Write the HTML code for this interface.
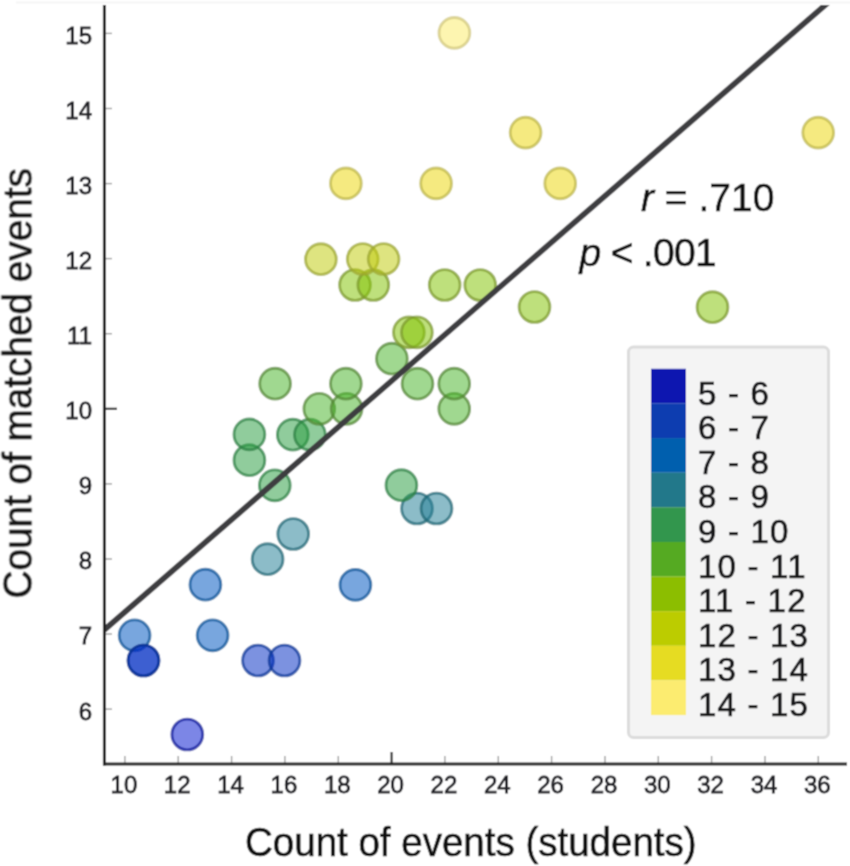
<!DOCTYPE html>
<html><head><meta charset="utf-8"><style>
html,body{margin:0;padding:0;background:#fff;width:850px;height:866px;overflow:hidden}
svg{display:block}
text{font-family:"Liberation Sans",sans-serif}
.tk{font-size:24px;fill:#1e1e24;stroke:#1e1e24;stroke-width:0.8px;letter-spacing:0px}
.lg{font-size:33px;fill:#141418;stroke:#141418;stroke-width:0.7px;letter-spacing:1.2px}
.an{font-size:39px;fill:#111;stroke:#111;stroke-width:0.5px}
.ti{font-size:40px;fill:#111;stroke:#111;stroke-width:0.6px}
</style></head><body>
<svg width="850" height="866" viewBox="0 0 850 866">
<defs><clipPath id="pc"><rect x="104.4" y="5" width="745" height="759"/></clipPath><filter id="b" x="0" y="0" width="850" height="866" filterUnits="userSpaceOnUse"><feConvolveMatrix order="3" kernelMatrix="1 2 1 2 6 2 1 2 1" divisor="18" edgeMode="duplicate"/></filter></defs>
<rect width="850" height="866" fill="#fff"/>
<g filter="url(#b)">
<rect width="850" height="866" fill="#fff"/>
<line x1="16" y1="2.5" x2="850" y2="2.5" stroke="#f5f5f5" stroke-width="2"/>
<line x1="104" y1="709.1" x2="112" y2="709.1" stroke="#a0a0a0" stroke-width="1.4"/>
<text x="92" y="719.5" text-anchor="end" class="tk">6</text>
<line x1="104" y1="634.0" x2="112" y2="634.0" stroke="#a0a0a0" stroke-width="1.4"/>
<text x="92" y="644.4" text-anchor="end" class="tk">7</text>
<line x1="104" y1="559.0" x2="112" y2="559.0" stroke="#a0a0a0" stroke-width="1.4"/>
<text x="92" y="569.4" text-anchor="end" class="tk">8</text>
<line x1="104" y1="483.9" x2="112" y2="483.9" stroke="#a0a0a0" stroke-width="1.4"/>
<text x="92" y="494.3" text-anchor="end" class="tk">9</text>
<line x1="104" y1="408.8" x2="117" y2="408.8" stroke="#2a2a2a" stroke-width="2.2"/>
<text x="92" y="419.2" text-anchor="end" class="tk">10</text>
<line x1="104" y1="333.7" x2="112" y2="333.7" stroke="#a0a0a0" stroke-width="1.4"/>
<text x="92" y="344.1" text-anchor="end" class="tk">11</text>
<line x1="104" y1="258.6" x2="112" y2="258.6" stroke="#a0a0a0" stroke-width="1.4"/>
<text x="92" y="269.0" text-anchor="end" class="tk">12</text>
<line x1="104" y1="183.6" x2="112" y2="183.6" stroke="#a0a0a0" stroke-width="1.4"/>
<text x="92" y="194.0" text-anchor="end" class="tk">13</text>
<line x1="104" y1="108.5" x2="112" y2="108.5" stroke="#a0a0a0" stroke-width="1.4"/>
<text x="92" y="118.9" text-anchor="end" class="tk">14</text>
<line x1="104" y1="33.4" x2="112" y2="33.4" stroke="#a0a0a0" stroke-width="1.4"/>
<text x="92" y="43.8" text-anchor="end" class="tk">15</text>
<line x1="124.9" y1="756" x2="124.9" y2="764" stroke="#a0a0a0" stroke-width="1.4"/>
<text x="123.9" y="792.5" text-anchor="middle" class="tk">10</text>
<line x1="178.2" y1="756" x2="178.2" y2="764" stroke="#a0a0a0" stroke-width="1.4"/>
<text x="177.2" y="792.5" text-anchor="middle" class="tk">12</text>
<line x1="231.6" y1="756" x2="231.6" y2="764" stroke="#a0a0a0" stroke-width="1.4"/>
<text x="230.6" y="792.5" text-anchor="middle" class="tk">14</text>
<line x1="284.9" y1="756" x2="284.9" y2="764" stroke="#a0a0a0" stroke-width="1.4"/>
<text x="283.9" y="792.5" text-anchor="middle" class="tk">16</text>
<line x1="338.3" y1="756" x2="338.3" y2="764" stroke="#a0a0a0" stroke-width="1.4"/>
<text x="337.3" y="792.5" text-anchor="middle" class="tk">18</text>
<line x1="391.6" y1="752" x2="391.6" y2="764" stroke="#2a2a2a" stroke-width="2.2"/>
<text x="390.6" y="792.5" text-anchor="middle" class="tk">20</text>
<line x1="444.9" y1="756" x2="444.9" y2="764" stroke="#a0a0a0" stroke-width="1.4"/>
<text x="443.9" y="792.5" text-anchor="middle" class="tk">22</text>
<line x1="498.3" y1="756" x2="498.3" y2="764" stroke="#a0a0a0" stroke-width="1.4"/>
<text x="497.3" y="792.5" text-anchor="middle" class="tk">24</text>
<line x1="551.6" y1="756" x2="551.6" y2="764" stroke="#a0a0a0" stroke-width="1.4"/>
<text x="550.6" y="792.5" text-anchor="middle" class="tk">26</text>
<line x1="605.0" y1="756" x2="605.0" y2="764" stroke="#a0a0a0" stroke-width="1.4"/>
<text x="604.0" y="792.5" text-anchor="middle" class="tk">28</text>
<line x1="658.3" y1="756" x2="658.3" y2="764" stroke="#a0a0a0" stroke-width="1.4"/>
<text x="657.3" y="792.5" text-anchor="middle" class="tk">30</text>
<line x1="711.6" y1="756" x2="711.6" y2="764" stroke="#a0a0a0" stroke-width="1.4"/>
<text x="710.6" y="792.5" text-anchor="middle" class="tk">32</text>
<line x1="765.0" y1="756" x2="765.0" y2="764" stroke="#a0a0a0" stroke-width="1.4"/>
<text x="764.0" y="792.5" text-anchor="middle" class="tk">34</text>
<line x1="818.3" y1="756" x2="818.3" y2="764" stroke="#a0a0a0" stroke-width="1.4"/>
<text x="817.3" y="792.5" text-anchor="middle" class="tk">36</text>
<circle cx="187.3" cy="734.5" r="15.4" fill="#061bd0" fill-opacity="0.53" stroke="#081396" stroke-opacity="0.72" stroke-width="2.9"/>
<circle cx="258.0" cy="660.5" r="15.4" fill="#0631c5" fill-opacity="0.53" stroke="#083596" stroke-opacity="0.72" stroke-width="2.9"/>
<circle cx="284.5" cy="660.5" r="15.4" fill="#0631c5" fill-opacity="0.53" stroke="#083596" stroke-opacity="0.72" stroke-width="2.9"/>
<circle cx="134.6" cy="635.3" r="15.4" fill="#0057c1" fill-opacity="0.53" stroke="#055094" stroke-opacity="0.72" stroke-width="2.9"/>
<circle cx="212.6" cy="635.3" r="15.4" fill="#0057c1" fill-opacity="0.53" stroke="#055094" stroke-opacity="0.72" stroke-width="2.9"/>
<circle cx="205.4" cy="584.7" r="15.4" fill="#0057c1" fill-opacity="0.53" stroke="#055094" stroke-opacity="0.72" stroke-width="2.9"/>
<circle cx="355.4" cy="584.9" r="15.4" fill="#0057c1" fill-opacity="0.53" stroke="#055094" stroke-opacity="0.72" stroke-width="2.9"/>
<circle cx="267.6" cy="559.2" r="15.4" fill="#268197" fill-opacity="0.53" stroke="#1f6675" stroke-opacity="0.72" stroke-width="2.9"/>
<circle cx="293.2" cy="534.0" r="15.4" fill="#268197" fill-opacity="0.53" stroke="#1f6675" stroke-opacity="0.72" stroke-width="2.9"/>
<circle cx="417.0" cy="508.5" r="15.4" fill="#268197" fill-opacity="0.53" stroke="#1f6675" stroke-opacity="0.72" stroke-width="2.9"/>
<circle cx="436.5" cy="508.5" r="15.4" fill="#268197" fill-opacity="0.53" stroke="#1f6675" stroke-opacity="0.72" stroke-width="2.9"/>
<circle cx="274.8" cy="485.3" r="15.4" fill="#2e9f44" fill-opacity="0.53" stroke="#2b8042" stroke-opacity="0.72" stroke-width="2.9"/>
<circle cx="401.4" cy="485.2" r="15.4" fill="#2e9f44" fill-opacity="0.53" stroke="#2b8042" stroke-opacity="0.72" stroke-width="2.9"/>
<circle cx="249.4" cy="460.2" r="15.4" fill="#2e9f44" fill-opacity="0.53" stroke="#2b8042" stroke-opacity="0.72" stroke-width="2.9"/>
<circle cx="249.4" cy="434.4" r="15.4" fill="#2e9f44" fill-opacity="0.53" stroke="#2b8042" stroke-opacity="0.72" stroke-width="2.9"/>
<circle cx="292.8" cy="434.7" r="15.4" fill="#2e9f44" fill-opacity="0.53" stroke="#2b8042" stroke-opacity="0.72" stroke-width="2.9"/>
<circle cx="309.9" cy="434.7" r="15.4" fill="#2e9f44" fill-opacity="0.53" stroke="#2b8042" stroke-opacity="0.72" stroke-width="2.9"/>
<circle cx="319.3" cy="408.8" r="15.4" fill="#4cb52e" fill-opacity="0.53" stroke="#538635" stroke-opacity="0.72" stroke-width="2.9"/>
<circle cx="346.6" cy="408.8" r="15.4" fill="#4cb52e" fill-opacity="0.53" stroke="#538635" stroke-opacity="0.72" stroke-width="2.9"/>
<circle cx="454.2" cy="408.8" r="15.4" fill="#4cb52e" fill-opacity="0.53" stroke="#538635" stroke-opacity="0.72" stroke-width="2.9"/>
<circle cx="275.1" cy="383.7" r="15.4" fill="#4cb52e" fill-opacity="0.53" stroke="#538635" stroke-opacity="0.72" stroke-width="2.9"/>
<circle cx="345.9" cy="383.7" r="15.4" fill="#4cb52e" fill-opacity="0.53" stroke="#538635" stroke-opacity="0.72" stroke-width="2.9"/>
<circle cx="417.5" cy="383.7" r="15.4" fill="#4cb52e" fill-opacity="0.53" stroke="#538635" stroke-opacity="0.72" stroke-width="2.9"/>
<circle cx="454.2" cy="383.7" r="15.4" fill="#4cb52e" fill-opacity="0.53" stroke="#538635" stroke-opacity="0.72" stroke-width="2.9"/>
<circle cx="391.9" cy="358.7" r="15.4" fill="#4cb52e" fill-opacity="0.53" stroke="#538635" stroke-opacity="0.72" stroke-width="2.9"/>
<circle cx="408.9" cy="332.3" r="15.4" fill="#84c508" fill-opacity="0.53" stroke="#7b982b" stroke-opacity="0.72" stroke-width="2.9"/>
<circle cx="416.9" cy="332.3" r="15.4" fill="#84c508" fill-opacity="0.53" stroke="#7b982b" stroke-opacity="0.72" stroke-width="2.9"/>
<circle cx="534.5" cy="307.0" r="15.4" fill="#84c508" fill-opacity="0.53" stroke="#7b982b" stroke-opacity="0.72" stroke-width="2.9"/>
<circle cx="712.5" cy="307.2" r="15.4" fill="#84c508" fill-opacity="0.53" stroke="#7b982b" stroke-opacity="0.72" stroke-width="2.9"/>
<circle cx="355.0" cy="285.0" r="15.4" fill="#84c508" fill-opacity="0.53" stroke="#7b982b" stroke-opacity="0.72" stroke-width="2.9"/>
<circle cx="373.3" cy="285.0" r="15.4" fill="#84c508" fill-opacity="0.53" stroke="#7b982b" stroke-opacity="0.72" stroke-width="2.9"/>
<circle cx="444.7" cy="285.0" r="15.4" fill="#84c508" fill-opacity="0.53" stroke="#7b982b" stroke-opacity="0.72" stroke-width="2.9"/>
<circle cx="480.2" cy="285.0" r="15.4" fill="#84c508" fill-opacity="0.53" stroke="#7b982b" stroke-opacity="0.72" stroke-width="2.9"/>
<circle cx="320.9" cy="259.2" r="15.4" fill="#c1cc0f" fill-opacity="0.53" stroke="#9da631" stroke-opacity="0.72" stroke-width="2.9"/>
<circle cx="362.7" cy="259.0" r="15.4" fill="#c1cc0f" fill-opacity="0.53" stroke="#9da631" stroke-opacity="0.72" stroke-width="2.9"/>
<circle cx="383.6" cy="259.0" r="15.4" fill="#c1cc0f" fill-opacity="0.53" stroke="#9da631" stroke-opacity="0.72" stroke-width="2.9"/>
<circle cx="345.9" cy="183.4" r="15.4" fill="#ecd70f" fill-opacity="0.53" stroke="#bcb648" stroke-opacity="0.72" stroke-width="2.9"/>
<circle cx="436.1" cy="183.4" r="15.4" fill="#ecd70f" fill-opacity="0.53" stroke="#bcb648" stroke-opacity="0.72" stroke-width="2.9"/>
<circle cx="560.2" cy="183.4" r="15.4" fill="#ecd70f" fill-opacity="0.53" stroke="#bcb648" stroke-opacity="0.72" stroke-width="2.9"/>
<circle cx="525.6" cy="132.6" r="15.4" fill="#ecd70f" fill-opacity="0.53" stroke="#bcb648" stroke-opacity="0.72" stroke-width="2.9"/>
<circle cx="818.2" cy="132.6" r="15.4" fill="#ecd70f" fill-opacity="0.53" stroke="#bcb648" stroke-opacity="0.72" stroke-width="2.9"/>
<circle cx="454.4" cy="32.9" r="15.4" fill="#fbec6a" fill-opacity="0.53" stroke="#d0c67c" stroke-opacity="0.72" stroke-width="2.9"/>
<circle cx="143.5" cy="660.5" r="15.4" fill="#0631c5" fill-opacity="0.53" stroke="#083596" stroke-opacity="0.72" stroke-width="2.9"/>
<circle cx="143.5" cy="660.5" r="15.4" fill="#0631c5" fill-opacity="0.53" stroke="#083596" stroke-opacity="0.72" stroke-width="2.9"/>
<line x1="90" y1="642.28" x2="840" y2="-7.74" stroke="#3e3c40" stroke-width="5.8" clip-path="url(#pc)"/>
<line x1="104.4" y1="5" x2="104.4" y2="765.5" stroke="#222" stroke-width="3"/>
<line x1="103" y1="764" x2="847" y2="764" stroke="#222" stroke-width="3"/>
<rect x="628.5" y="347" width="200" height="390.5" rx="5" fill="#f4f4f4" stroke="#dcdcdc" stroke-width="3"/>
<rect x="651" y="368.80" width="35" height="34.7" fill="#0a16b0"/>
<text x="698" y="404.50" class="lg">5 - 6</text>
<rect x="651" y="403.42" width="35" height="34.7" fill="#0a3eb0"/>
<text x="698" y="439.12" class="lg">6 - 7</text>
<rect x="651" y="438.04" width="35" height="34.7" fill="#065eae"/>
<text x="698" y="473.74" class="lg">7 - 8</text>
<rect x="651" y="472.66" width="35" height="34.7" fill="#24788a"/>
<text x="698" y="508.36" class="lg">8 - 9</text>
<rect x="651" y="507.28" width="35" height="34.7" fill="#33964e"/>
<text x="698" y="542.98" class="lg">9 - 10</text>
<rect x="651" y="541.90" width="35" height="34.7" fill="#55aa22"/>
<text x="698" y="577.60" class="lg">10 - 11</text>
<rect x="651" y="576.52" width="35" height="34.7" fill="#8cbe06"/>
<text x="698" y="612.22" class="lg">11 - 12</text>
<rect x="651" y="611.14" width="35" height="34.7" fill="#bccc06"/>
<text x="698" y="646.84" class="lg">12 - 13</text>
<rect x="651" y="645.76" width="35" height="34.7" fill="#e6dc22"/>
<text x="698" y="681.46" class="lg">13 - 14</text>
<rect x="651" y="680.38" width="35" height="34.7" fill="#fcec70"/>
<text x="698" y="716.08" class="lg">14 - 15</text>
<text x="641" y="211" class="an"><tspan font-style="italic">r</tspan> = .710</text>
<text x="579.5" y="266" class="an" letter-spacing="-0.7"><tspan font-style="italic">p</tspan> &lt; .001</text>
<text transform="translate(245,855.5) scale(0.963,1)" class="ti">Count of events (students)</text>
<text transform="translate(31.5,598.5) rotate(-90) scale(0.968,1)" class="ti">Count of matched events</text>
</g>
</svg>
</body></html>
